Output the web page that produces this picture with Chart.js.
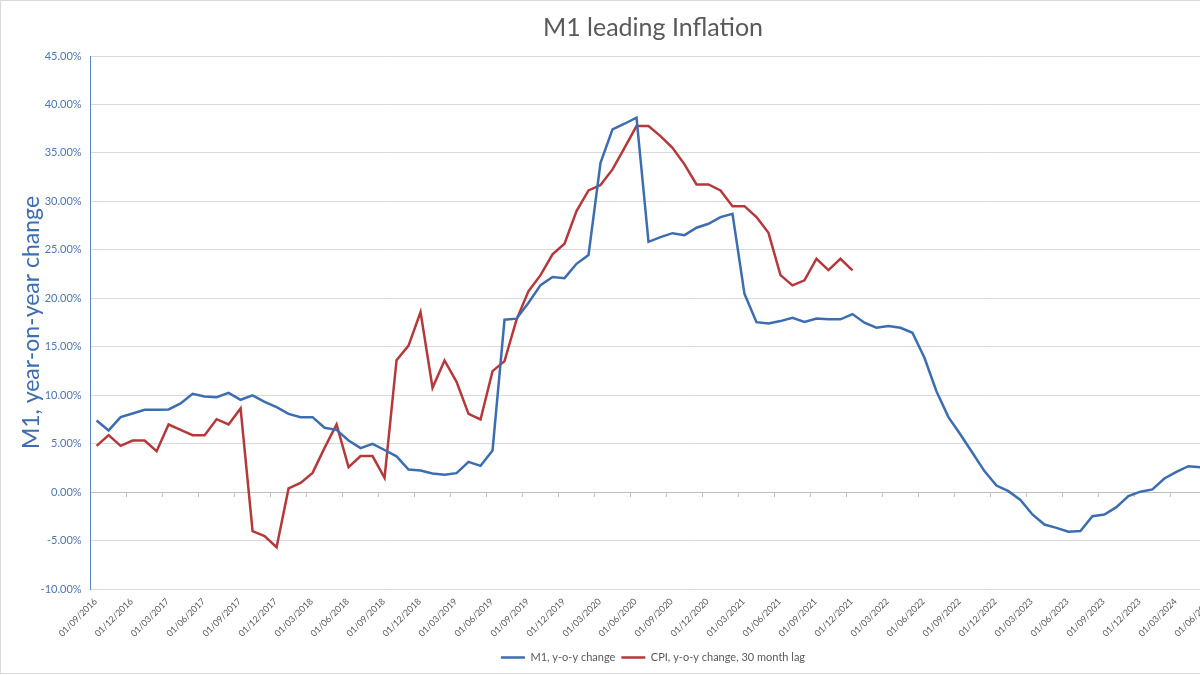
<!DOCTYPE html>
<html>
<head>
<meta charset="utf-8">
<script src="https://cdn.jsdelivr.net/npm/chart.js@4.4.1/dist/chart.umd.min.js"></script>
<style>
  html, body { margin: 0; padding: 0; background: #fff; overflow: hidden; }
  #wrap {
    position: absolute; left: 0; top: 0;
    width: 1306px; height: 674px;
    border: 1px solid #d9d9d9; box-sizing: border-box;
  }
</style>
</head>
<body>
<div id="wrap"><canvas id="chart"></canvas></div>
<script>
// month labels (x categories), one per month starting Sep 2016
const months = [
  "01/09/2016", "01/10/2016", "01/11/2016", "01/12/2016",
  "01/01/2017", "01/02/2017", "01/03/2017", "01/04/2017", "01/05/2017", "01/06/2017",
  "01/07/2017", "01/08/2017", "01/09/2017", "01/10/2017", "01/11/2017", "01/12/2017",
  "01/01/2018", "01/02/2018", "01/03/2018", "01/04/2018", "01/05/2018", "01/06/2018",
  "01/07/2018", "01/08/2018", "01/09/2018", "01/10/2018", "01/11/2018", "01/12/2018",
  "01/01/2019", "01/02/2019", "01/03/2019", "01/04/2019", "01/05/2019", "01/06/2019",
  "01/07/2019", "01/08/2019", "01/09/2019", "01/10/2019", "01/11/2019", "01/12/2019",
  "01/01/2020", "01/02/2020", "01/03/2020", "01/04/2020", "01/05/2020", "01/06/2020",
  "01/07/2020", "01/08/2020", "01/09/2020", "01/10/2020", "01/11/2020", "01/12/2020",
  "01/01/2021", "01/02/2021", "01/03/2021", "01/04/2021", "01/05/2021", "01/06/2021",
  "01/07/2021", "01/08/2021", "01/09/2021", "01/10/2021", "01/11/2021", "01/12/2021",
  "01/01/2022", "01/02/2022", "01/03/2022", "01/04/2022", "01/05/2022", "01/06/2022",
  "01/07/2022", "01/08/2022", "01/09/2022", "01/10/2022", "01/11/2022", "01/12/2022",
  "01/01/2023", "01/02/2023", "01/03/2023", "01/04/2023", "01/05/2023", "01/06/2023",
  "01/07/2023", "01/08/2023", "01/09/2023", "01/10/2023", "01/11/2023", "01/12/2023",
  "01/01/2024", "01/02/2024", "01/03/2024", "01/04/2024", "01/05/2024", "01/06/2024",
  "01/07/2024", "01/08/2024", "01/09/2024", "01/10/2024", "01/11/2024", "01/12/2024"
];

// M1, y-o-y change (%)
const m1Values = [
  7.40, 6.37, 7.74, 8.12, 8.50, 8.50, 8.53, 9.15, 10.15, 9.87, 9.80, 10.25,
  9.53, 9.98, 9.32, 8.77, 8.08, 7.74, 7.74, 6.64, 6.43, 5.33, 4.54, 4.99,
  4.35, 3.70, 2.34, 2.24, 1.93, 1.79, 1.96, 3.13, 2.71, 4.30, 17.80, 17.90,
  19.54, 21.36, 22.19, 22.08, 23.56, 24.46, 33.98, 37.43, 38.01, 38.63, 25.83, 26.32,
  26.72, 26.52, 27.28, 27.69, 28.38, 28.72, 20.46, 17.54, 17.41, 17.65, 17.99, 17.57,
  17.92, 17.85, 17.83, 18.37, 17.48, 16.96, 17.13, 16.96, 16.44, 13.86, 10.42, 7.74,
  5.95, 4.06, 2.17, 0.68, 0.10, -0.80, -2.30, -3.34, -3.68, -4.09, -4.02, -2.48,
  -2.30, -1.55, -0.41, 0.05, 0.28, 1.41, 2.10, 2.68, 2.58
];

// CPI, y-o-y change, 30 month lag (%)
const cpiValues = [
  4.78, 5.88, 4.78, 5.33, 5.33, 4.23, 6.98, 6.43, 5.88, 5.88, 7.53, 6.98,
  8.64, -4.02, -4.54, -5.68, 0.38, 0.96, 1.99, 4.57, 6.98, 2.58, 3.72, 3.72,
  1.48, 13.62, 15.12, 18.58, 10.77, 13.59, 11.38, 8.08, 7.50, 12.49, 13.52, 17.80,
  20.74, 22.39, 24.53, 25.63, 29.00, 31.13, 31.68, 33.30, 35.53, 37.77, 37.77, 36.74,
  35.53, 33.82, 31.75, 31.75, 31.13, 29.51, 29.51, 28.38, 26.76, 22.39, 21.33, 21.85,
  24.08, 22.91, 24.08, 22.88
];

const seriesNames = ["M1, y-o-y change", "CPI, y-o-y change, 30 month lag"];

// each monthly value sits in the middle of its month
const toPoints = (vals) => vals.map((v, i) => ({ x: i + 0.5, y: v }));

Chart.defaults.font.family = "Lato, 'Open Sans', sans-serif";
Chart.defaults.color = "#595959";

new Chart(document.getElementById("chart"), {
  type: "line",
  data: {
    datasets: [
      {
        label: seriesNames[0],
        data: toPoints(m1Values),
        borderColor: "#3c6db0",
        backgroundColor: "#3c6db0",
        borderWidth: 2.5,
        pointRadius: 0,
        tension: 0,
        xAxisID: "x",
        yAxisID: "y",
      },
      {
        label: seriesNames[1],
        data: toPoints(cpiValues),
        borderColor: "#b5393a",
        backgroundColor: "#b5393a",
        borderWidth: 2.5,
        pointRadius: 0,
        tension: 0,
        xAxisID: "x",
        yAxisID: "y",
      },
    ],
  },
  options: {
    responsive: true,
    maintainAspectRatio: false,
    animation: false,
    layout: { padding: 0 },
    plugins: {
      title: {
        display: true,
        text: "M1 leading Inflation",
        color: "#595959",
        font: { size: 25, weight: "normal" },
        padding: { top: 12, bottom: 13 },
      },
      legend: {
        position: "bottom",
        labels: {
          usePointStyle: true,
          pointStyle: "line",
          pointStyleWidth: 24,
          color: "#595959",
          font: { size: 11 },
          padding: 6,
        },
      },
      tooltip: { enabled: false },
    },
    scales: {
      x: {
        type: "linear",
        position: "bottom",
        min: 0,
        max: 100,
        grid: { display: false, drawTicks: false },
        border: { display: false },
        ticks: {
          stepSize: 3,
          autoSkip: false,
          maxRotation: 45,
          minRotation: 45,
          padding: 7,
          labelOffset: 5,
          color: "#595959",
          font: { size: 9 },
          callback: (v) => months[v] ?? "",
        },
      },
      // zero line with small tick marks, like the spreadsheet axis
      x0: {
        axis: "x",
        type: "linear",
        position: { y: 0 },
        min: 0,
        max: 100,
        ticks: { display: false, stepSize: 3 },
        grid: { drawOnChartArea: false, drawTicks: true, tickLength: 4, color: "#bfbfbf" },
        border: { display: true, color: "#bfbfbf", width: 1 },
      },
      y: {
        min: -10,
        max: 45,
        grid: { color: "#d9d9d9", drawTicks: false },
        border: { color: "#5b87c5", width: 1 },
        ticks: {
          stepSize: 5,
          padding: 9,
          color: "#4a76b0",
          font: { size: 11 },
          callback: (v) => v.toFixed(2) + "%",
        },
        title: {
          display: true,
          text: "M1, year-on-year change",
          color: "#3e6eb0",
          font: { size: 23 },
          padding: { top: 17, bottom: -14 },
        },
      },
    },
  },
});
</script>
</body>
</html>
